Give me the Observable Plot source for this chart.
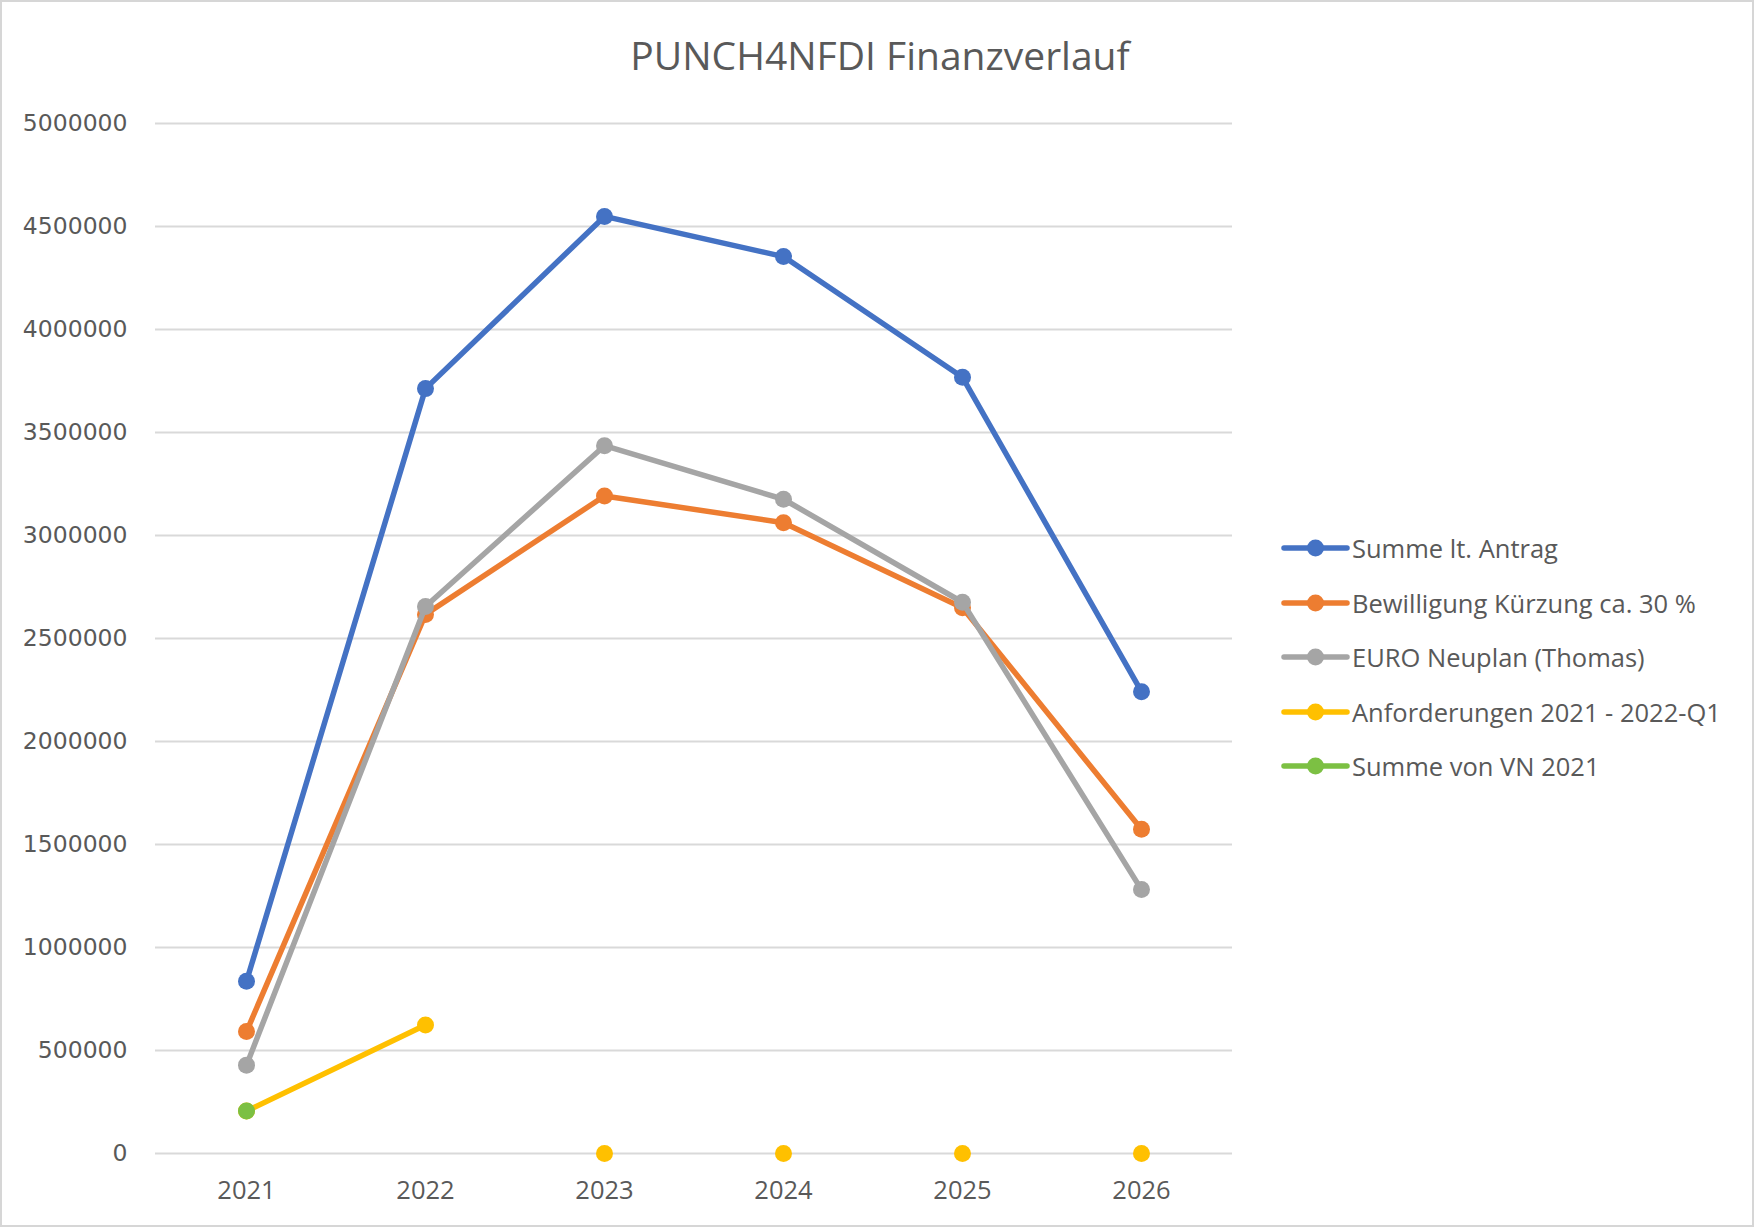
<!DOCTYPE html>
<html>
<head>
<meta charset="utf-8">
<script src="https://cdn.jsdelivr.net/npm/d3@7"></script>
<script src="https://cdn.jsdelivr.net/npm/@observablehq/plot@0.6"></script>
<style>
  html, body { margin: 0; padding: 0; background: #fff; }
  #frame { position: relative; width: 1750px; height: 1223px; border: 2px solid #d6d6d6; overflow: hidden; background: #fff; }
  #title { position: absolute; left: 0; top: 0; width: 1756px; height: 100px; text-align: center; font-family: "Open Sans", sans-serif; font-size: 39px; color: #595959; line-height: 106px; }
  #chart { position: absolute; left: -5px; top: 97px; }
  #legend { position: absolute; left: 1279px; top: 519px; font-family: "Open Sans", sans-serif; font-size: 25.5px; color: #595959; }
  .item { display: flex; align-items: center; height: 54.5px; }
  .item svg { margin-right: 2px; }
</style>
</head>
<body>
<div id="frame">
  <div id="title">PUNCH4NFDI Finanzverlauf</div>
  <div id="chart"></div>
  <div id="legend"></div>
</div>
<script>
const years = ["2021", "2022", "2023", "2024", "2025", "2026"];
const seriesNames = ["Summe lt. Antrag", "Bewilligung Kürzung ca. 30 %", "EURO Neuplan (Thomas)", "Anforderungen 2021 - 2022-Q1", "Summe von VN 2021"];
const seriesColors = ["#4472C4", "#ED7D31", "#A5A5A5", "#FFC000", "#7CC043"];
const summeAntrag = [836000, 3713000, 4549000, 4354000, 3768000, 2242000];
const bewilligung = [592000, 2617000, 3192000, 3062000, 2649000, 1574000];
const euroNeuplan = [429000, 2655000, 3436000, 3176000, 2676000, 1281000];
const anforderungen = [206000, 624000, 0, 0, 0, 0];
const anforderungenLine = [206000, 624000, null, null, null, null];
const summeVN = [206000, null, null, null, null, null];
const yTicks = [0, 500000, 1000000, 1500000, 2000000, 2500000, 3000000, 3500000, 4000000, 4500000, 5000000];

const toRows = (arr, name) => years.map((year, i) => ({year, value: arr[i], series: name}));
const lineSeries = [
  toRows(summeAntrag, seriesNames[0]),
  toRows(bewilligung, seriesNames[1]),
  toRows(euroNeuplan, seriesNames[2])
];
const yellowLine = toRows(anforderungenLine, seriesNames[3]).filter(d => d.value != null);
const yellowDots = toRows(anforderungen, seriesNames[3]);
const greenDots = toRows(summeVN, seriesNames[4]).filter(d => d.value != null);

const R = 8.5, SW = 5.5;
const marks = [
  Plot.ruleY(yTicks, {stroke: "#d9d9d9", strokeWidth: 2})
];
lineSeries.forEach((rows, i) => {
  marks.push(Plot.line(rows, {x: "year", y: "value", stroke: seriesColors[i], strokeWidth: SW, strokeLinejoin: "round", strokeLinecap: "round"}));
  marks.push(Plot.dot(rows, {x: "year", y: "value", fill: seriesColors[i], r: R}));
});
marks.push(Plot.line(yellowLine, {x: "year", y: "value", stroke: seriesColors[3], strokeWidth: SW, strokeLinecap: "round"}));
marks.push(Plot.dot(yellowDots, {x: "year", y: "value", fill: seriesColors[3], r: R}));
marks.push(Plot.dot(greenDots, {x: "year", y: "value", fill: seriesColors[4], r: R}));

const chart = Plot.plot({
  width: 1260,
  height: 1129,
  marginLeft: 158,
  marginRight: 25,
  marginTop: 24,
  marginBottom: 75,
  style: {background: "transparent", overflow: "visible"},
  x: {type: "point", domain: years, padding: 0.5, label: null},
  y: {domain: [0, 5000000], label: null},
  marks: [
    ...marks,
    Plot.axisY({ticks: yTicks, tickSize: 0, tickPadding: 28, tickFormat: d => String(d), fontSize: 23.5, fontFamily: "DejaVu Sans", fill: "#595959", label: null}),
    Plot.axisX({tickSize: 0, tickPadding: 27, fontSize: 25.5, fontFamily: "Open Sans", fill: "#595959", label: null})
  ]
});
document.getElementById("chart").appendChild(chart);

const legend = document.getElementById("legend");
seriesNames.forEach((name, i) => {
  const item = document.createElement("div");
  item.className = "item";
  item.innerHTML = `<svg width="69" height="22"><line x1="3" y1="11" x2="66" y2="11" stroke="${seriesColors[i]}" stroke-width="5.5" stroke-linecap="round"/><circle cx="34.5" cy="11" r="8.5" fill="${seriesColors[i]}"/></svg><span>${name}</span>`;
  legend.appendChild(item);
});
</script>
</body>
</html>
